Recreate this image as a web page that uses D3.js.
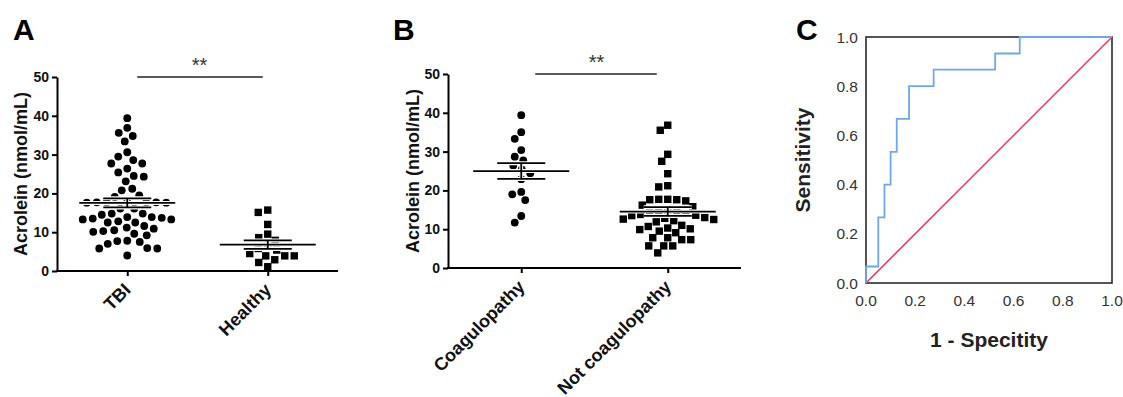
<!DOCTYPE html>
<html>
<head>
<meta charset="utf-8">
<script src="https://cdn.jsdelivr.net/npm/d3@7"></script>
<style>
  html, body { margin: 0; padding: 0; background: #fff; }
  svg { display: block; font-family: "Liberation Sans", Arial, sans-serif; }
</style>
</head>
<body>
<svg id="chart" width="1123" height="397"></svg>
<script>
// ---------------- DATA ----------------
const groupsA = ["TBI", "Healthy"];
const tbiValues = [39.4, 36.9, 35.6, 34.8, 33.4, 30.6, 29.5, 28.6, 27.7, 27.7, 26.4, 25.4, 24.3, 24.5,
  23.1, 21.2, 20.8, 19.1, 19.5, 17.7, 17.7, 17.6, 17.7, 17.8, 17.7, 17.6, 16.1, 16.1,
  14.8, 13.3, 12.8, 13.9, 12.5, 13.7, 13.5, 13.9, 14.5, 12.5, 14.8, 13.3,
  11.2, 10.5, 10.9, 11.6, 10.1, 10.3, 9.2, 9.6, 7.0, 7.7, 7.5, 7.8, 5.8, 5.8, 5.9, 4.0];
const healthyValues = [15.1, 15.7, 12.0, 9.5, 8.6, 7.9, 6.3, 5.8, 5.4, 4.5, 3.9, 3.9, 3.9, 2.9, 2.2, 1.1];

const groupsB = ["Coagulopathy", "Not coagulopathy"];
const coagValues = [39.4, 35.0, 33.3, 30.4, 28.7, 27.7, 26.4, 25.4, 24.4, 22.9, 19.0, 19.6, 17.5, 13.4, 11.7];
const notCoagValues = [36.8, 35.5, 29.3, 27.5, 24.3, 21.2, 20.9,
  17.7, 17.6, 17.3, 17.6, 17.7, 16.2, 15.8,
  14.8, 14.2, 13.8, 13.5, 13.6, 14.0, 14.4, 15.0,
  13.0, 12.6, 12.2, 11.9, 12.5, 12.8,
  11.0, 10.3, 10.7, 9.9, 9.1, 9.5, 10.1,
  7.3, 7.8, 7.3, 7.8, 5.7, 5.7, 5.7, 3.9];

const yTicks = [0, 10, 20, 30, 40, 50];

// ROC curve (1 - specificity, sensitivity) corner points
const rocFpr = [0, 0, 0.05, 0.075, 0.1, 0.125, 0.175, 0.275, 0.525, 0.625, 1.0];
const rocTpr = [0, 0.067, 0.267, 0.4, 0.533, 0.667, 0.8, 0.867, 0.933, 1.0, 1.0];
const rocTicks = [0, 0.2, 0.4, 0.6, 0.8, 1.0];

// ---------------- HELPERS ----------------
const svg = d3.select("#chart");
svg.append("rect").attr("width", 1123).attr("height", 397).attr("fill", "#fff");

function swarm(values, y, cx, d) {
  const items = values.map(v => ({ v, y: y(v) })).sort((a, b) => b.v - a.v);
  const placed = [];
  items.forEach(p => {
    let off = 0;
    for (let k = 0; k < 600; k++) {
      const cand = (k % 2 === 0 ? 1 : -1) * Math.ceil(k / 2) * 0.5;
      const ok = placed.every(q => {
        const dx = q.x - (cx + cand), dy = q.y - p.y;
        return dx * dx + dy * dy >= d * d;
      });
      if (ok) { off = cand; break; }
    }
    p.x = cx + off;
    placed.push(p);
  });
  return placed;
}

function statLines(g, values, y, cx, meanHalf, semHalf) {
  const m = d3.mean(values);
  const sem = d3.deviation(values) / Math.sqrt(values.length);
  const segs = [
    [cx - meanHalf, y(m), cx + meanHalf, y(m)],
    [cx - semHalf, y(m + sem), cx + semHalf, y(m + sem)],
    [cx - semHalf, y(m - sem), cx + semHalf, y(m - sem)],
    [cx, y(m + sem), cx, y(m - sem)]
  ];
  [["#fff", 4], ["#000", 1.8]].forEach(([c, w]) => {
    g.selectAll(null).data(segs).enter().append("line")
      .attr("x1", s => s[0]).attr("y1", s => s[1]).attr("x2", s => s[2]).attr("y2", s => s[3])
      .attr("stroke", c).attr("stroke-width", w);
  });
}

function dotPanel(opts) {
  const g = svg.append("g");
  const x = d3.scalePoint().domain(opts.groups).range([opts.left, opts.right]).padding(0.5);
  const y = d3.scaleLinear().domain([0, 50]).range([opts.bottom, opts.top]);

  // y axis
  const ya = g.append("g").attr("transform", `translate(${opts.left},0)`)
    .call(d3.axisLeft(y).tickValues(yTicks).tickSize(5).tickSizeOuter(0).tickPadding(3));
  ya.select(".domain").attr("stroke", "#000").attr("stroke-width", 2);
  ya.selectAll(".tick line").attr("stroke", "#000").attr("stroke-width", 2);
  ya.selectAll(".tick text").attr("font-size", 14).attr("font-weight", "bold")
    .attr("fill", "#111").attr("font-family", "Liberation Sans, Arial, sans-serif");

  // x axis
  const xa = g.append("g").attr("transform", `translate(0,${opts.bottom})`)
    .call(d3.axisBottom(x).tickSize(5).tickSizeOuter(0));
  xa.select(".domain").attr("stroke", "#000").attr("stroke-width", 2)
    .attr("d", `M${opts.left - 1},0H${opts.right}`);
  xa.selectAll(".tick line").attr("stroke", "#000").attr("stroke-width", 2);
  xa.selectAll(".tick text")
    .attr("x", 0).attr("y", 0).attr("dy", null)
    .attr("transform", "translate(4,20) rotate(-45)")
    .attr("text-anchor", "end")
    .attr("font-size", 18).attr("font-weight", "bold").attr("fill", "#111")
    .attr("font-family", "Liberation Sans, Arial, sans-serif");

  // y label
  g.append("text")
    .attr("transform", `translate(${opts.ylabX},${(opts.top + opts.bottom) / 2}) rotate(-90)`)
    .attr("text-anchor", "middle").attr("dy", "0.35em")
    .attr("font-size", 18).attr("font-weight", "bold").attr("fill", "#111")
    .text("Acrolein (nmol/mL)");

  // points
  const c1 = x(opts.groups[0]), c2 = x(opts.groups[1]);
  const pts1 = swarm(opts.v1, y, c1, opts.d1);
  const pts2 = swarm(opts.v2, y, c2, opts.d2);
  g.selectAll(null).data(pts1).enter().append("circle")
    .attr("cx", p => p.x).attr("cy", p => p.y).attr("r", 3.9).attr("fill", "#000");
  g.selectAll(null).data(pts2).enter().append("rect")
    .attr("x", p => p.x - 3.7).attr("y", p => p.y - 3.7).attr("width", 7.4).attr("height", 7.4)
    .attr("fill", "#000");

  statLines(g, opts.v1, y, c1, 48, 24);
  statLines(g, opts.v2, y, c2, 48, 24);

  // significance
  g.append("line").attr("x1", c1 + opts.sigInset).attr("x2", c2 - opts.sigInset2)
    .attr("y1", y(50)).attr("y2", y(50)).attr("stroke", "#222").attr("stroke-width", 1.3);
  g.append("text").attr("x", (c1 + c2) / 2 + 2).attr("y", y(50) - 5.5)
    .attr("text-anchor", "middle").attr("font-size", 20).attr("fill", "#333").text("**");

  // panel letter
  g.append("text").attr("x", opts.letterX).attr("y", 40).attr("font-size", 30)
    .attr("font-weight", "bold").attr("fill", "#000").text(opts.letter);
}

dotPanel({ groups: groupsA, left: 57, right: 338, top: 77, bottom: 271,
  v1: tbiValues, v2: healthyValues, d1: 9.6, d2: 9.5,
  ylabX: 21, sigInset: 10, sigInset2: 5, letter: "A", letterX: 13 });

dotPanel({ groups: groupsB, left: 448, right: 741, top: 74, bottom: 268,
  v1: coagValues, v2: notCoagValues, d1: 9, d2: 9,
  ylabX: 413, sigInset: 14, sigInset2: 11, letter: "B", letterX: 393 });

// ---------------- PANEL C (ROC) ----------------
(function () {
  const g = svg.append("g");
  const x = d3.scaleLinear().domain([0, 1]).range([866, 1112]);
  const y = d3.scaleLinear().domain([0, 1]).range([283, 37]);

  // frame
  g.append("rect").attr("x", x(0)).attr("y", y(1)).attr("width", x(1) - x(0)).attr("height", y(0) - y(1))
    .attr("fill", "none").attr("stroke", "#2a2a2a").attr("stroke-width", 1.6);

  // diagonal reference
  g.append("line").attr("x1", x(0)).attr("y1", y(0)).attr("x2", x(1)).attr("y2", y(1))
    .attr("stroke", "#e8335b").attr("stroke-width", 1.5);

  // ROC
  const rocData = rocFpr.map((f, i) => [f, rocTpr[i]]);
  g.append("path").datum(rocData)
    .attr("d", d3.line().x(d => x(d[0])).y(d => y(d[1])).curve(d3.curveStepAfter))
    .attr("fill", "none").attr("stroke", "#6ea8ea").attr("stroke-width", 1.8);

  const fmt = d3.format(".1f");
  g.selectAll(null).data(rocTicks).enter().append("text")
    .attr("x", 858).attr("y", d => y(d)).attr("dy", "0.36em").attr("text-anchor", "end")
    .attr("font-size", 15.5).attr("fill", "#333").text(fmt);
  g.selectAll(null).data(rocTicks).enter().append("text")
    .attr("x", d => x(d)).attr("y", 306).attr("text-anchor", "middle")
    .attr("font-size", 15.5).attr("fill", "#333").text(fmt);

  g.append("text").attr("x", 989).attr("y", 347).attr("text-anchor", "middle")
    .attr("font-size", 21).attr("font-weight", "bold").attr("fill", "#222").text("1 - Specitity");
  g.append("text").attr("transform", `translate(803,160) rotate(-90)`)
    .attr("text-anchor", "middle").attr("dy", "0.35em")
    .attr("font-size", 21).attr("font-weight", "bold").attr("fill", "#222").text("Sensitivity");

  g.append("text").attr("x", 796).attr("y", 40).attr("font-size", 30)
    .attr("font-weight", "bold").attr("fill", "#000").text("C");
})();
</script>
</body>
</html>
